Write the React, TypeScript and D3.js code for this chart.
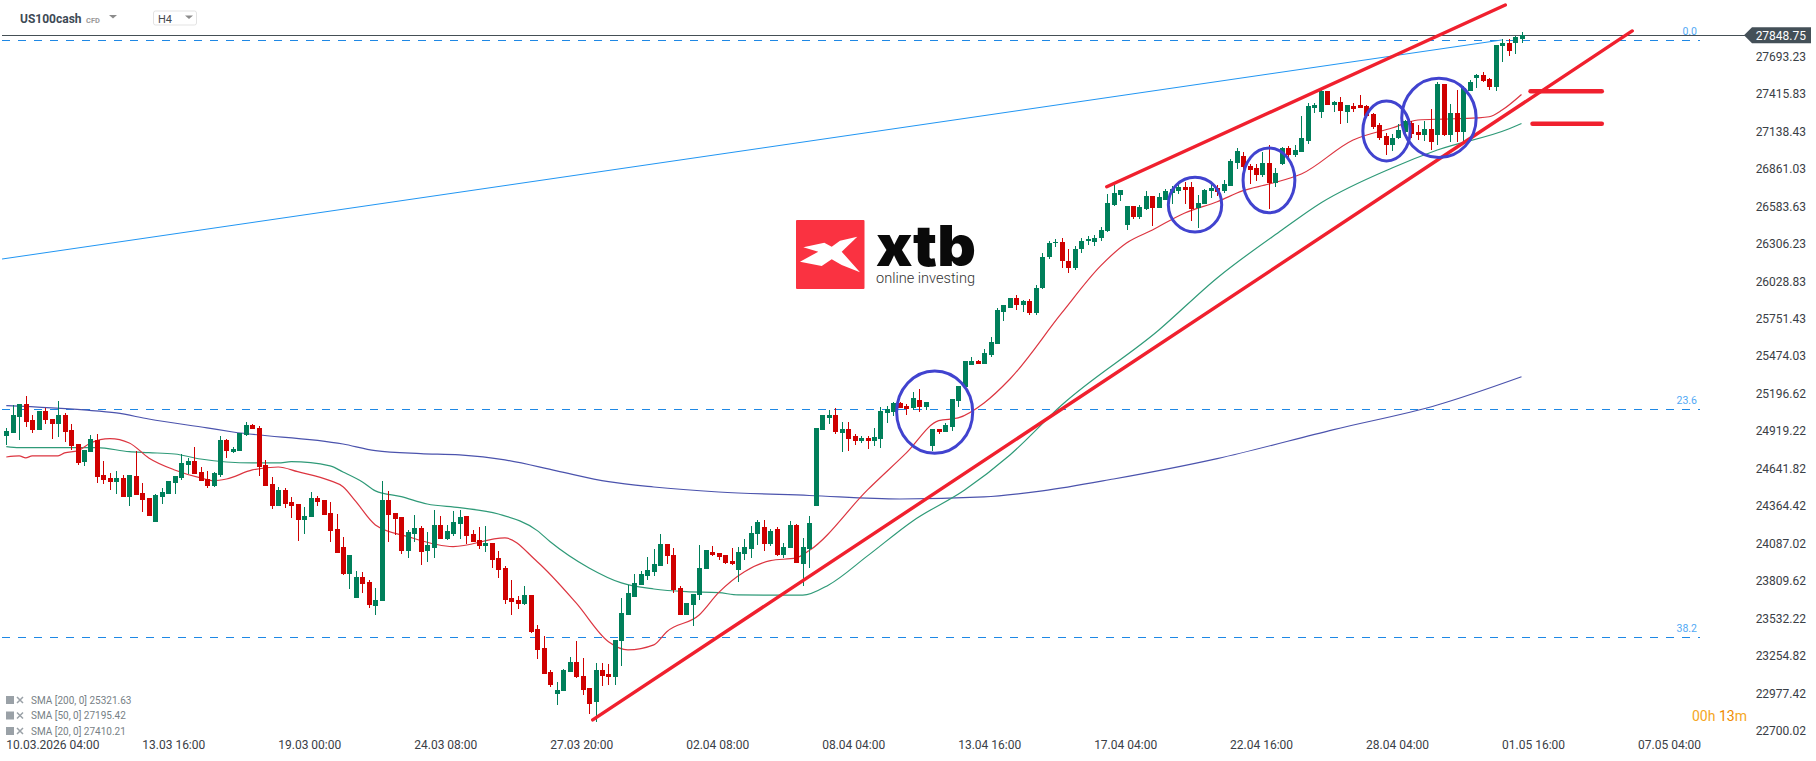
import * as d3 from 'd3';

type Candle = [number, number, number, number]; // open, high, low, close

const candlesMarchA: Candle[] = [
  [24884,24941,24817,24921],[24908,25113,24908,25039],[25027,25120,24854,25120],[25120,25180,24953,24990],
  [25002,25039,24908,24928],[24928,25068,24928,25068],[25068,25088,24972,25002],[25009,25009,24861,24972],
  [24972,25143,24876,25039],[25039,25051,24839,24913],[24928,24972,24780,24809],[24824,24824,24669,24684],
  [24691,24780,24661,24780],[24765,24891,24765,24861],[24854,24898,24536,24580],[24595,24698,24528,24558],
  [24573,24610,24484,24543],[24543,24624,24454,24573],[24573,24595,24432,24432],[24432,24595,24365,24595],
  [24587,24772,24447,24447],[24462,24536,24321,24410],[24425,24425,24291,24291],[24247,24454,24247,24447],
  [24432,24499,24380,24469],[24454,24550,24454,24550],[24536,24587,24454,24587],[24573,24750,24558,24684],
  [24669,24721,24602,24698],[24698,24802,24602,24602],[24617,24654,24550,24550],[24565,24624,24499,24513],
  [24513,24617,24506,24610],[24595,24883,24580,24854],[24854,24861,24721,24772],[24765,24802,24758,24787],
  [24772,24906,24772,24906],[24891,24987,24883,24965],[24965,24972,24935,24935],[24943,24957,24587,24654],
];
const candlesMarchB: Candle[] = [
  [24669,24706,24513,24513],[24528,24580,24343,24365],[24365,24506,24365,24484],[24484,24499,24351,24380],
  [24395,24432,24277,24365],[24380,24380,24106,24262],[24262,24358,24158,24291],[24284,24469,24284,24425],
  [24425,24439,24365,24395],[24410,24410,24299,24299],[24314,24395,24099,24180],[24195,24306,24017,24017],
  [24062,24136,23855,23862],[23862,24003,23751,24003],[23685,23884,23685,23840],[23840,23877,23722,23788],
  [23803,23818,23611,23633],[23625,23759,23559,23670],[23662,24551,23662,24410],[24410,24477,24099,24299],
  [24314,24314,24151,24269],[24284,24284,24010,24032],[24032,24188,23981,24173],[24158,24299,24099,24203],
  [24203,24217,23929,24025],[24032,24173,23951,24077],[24055,24336,23981,24225],[24225,24291,24121,24121],
  [24121,24225,24114,24180],[24158,24328,24143,24247],[24232,24336,24121,24284],[24291,24291,24084,24143],
  [24158,24188,24099,24099],[24114,24210,24047,24069],[24069,24217,24025,24092],[24092,24092,23907,23966],
  [23981,24032,23833,23892],[23907,23921,23640,23670],[23685,23818,23559,23655],[23670,23699,23603,23640],
];
const candlesLate: Candle[] = [
  [23640,23773,23633,23707],[23707,23707,23426,23433],[23455,23485,23233,23300],[23315,23403,23122,23122],
  [23137,23152,23026,23041],[22974,23063,22893,23004],[22996,23159,22996,23152],[23137,23248,23137,23211],
  [23211,23366,23093,23100],[23107,23241,22967,23004],[23019,23019,22826,22900],[22915,23204,22767,23152],
  [23152,23204,23033,23107],[23122,23196,23041,23100],[23100,23374,23041,23374],[23366,23685,23181,23574],
  [23559,23781,23559,23722],[23692,23862,23692,23796],[23781,23885,23781,23862],[23848,23988,23818,23892],
  [23877,24047,23848,23936],[23922,24158,23922,24084],[24084,24084,23936,23996],[24003,24055,23722,23744],
  [23759,23774,23559,23559],[23559,23648,23559,23648],[23633,23714,23477,23714],[23707,24077,23670,23907],
  [23899,24040,23899,24040],[24025,24070,23996,24003],[24018,24018,23966,23988],[24003,24003,23936,23944],
  [23959,24055,23926,23936],[23892,24062,23803,24025],[24010,24121,23966,24062],[24047,24218,23981,24166],
  [24158,24260,24077,24247],[24210,24262,24033,24084],[24084,24195,24070,24181],[24195,24210,23996,24003],
  [24003,24092,23981,24062],[24055,24255,24055,24225],[24225,24232,23944,23944],[23936,24129,23774,24062],
  [24047,24290,23907,24240],
];
const candlesAprilA: Candle[] = [
  [24365,24943,24365,24943],[24928,25039,24928,25039],[25017,25076,24972,25039],[25039,25090,24898,24913],
  [24905,24987,24765,24935],[24935,24987,24772,24861],[24883,24898,24817,24846],[24846,24883,24831,24868],
  [24868,24883,24787,24846],[24846,24943,24809,24876],[24861,25098,24795,25068],[25054,25105,24980,25083],
  [25061,25135,25031,25128],[25128,25135,25090,25090],[25105,25120,25039,25083],[25090,25209,25076,25165],
  [25150,25231,25061,25098],[25098,25135,25076,25135],[24809,24935,24772,24935],[24935,24935,24898,24913],
  [24913,24977,24913,24965],[24950,25157,24920,25157],[25142,25253,25098,25253],[25246,25438,25246,25438],
  [25409,25468,25409,25438],[25438,25445,25416,25416],[25416,25527,25416,25498],[25483,25616,25468,25579],
  [25564,25831,25564,25816],[25801,25853,25734,25853],[25831,25905,25831,25905],
];
const candlesAprilB: Candle[] = [
  [25905,25925,25815,25850],[25850,25890,25800,25880],[25880,25900,25780,25790],[25790,26000,25780,25980],
  [25980,26240,25970,26210],[26210,26330,26190,26310],[26310,26340,26280,26320],[26320,26345,26130,26180],
  [26180,26270,26090,26130],[26130,26290,26110,26270],[26270,26345,26240,26330],[26330,26360,26300,26340],
  [26320,26370,26290,26350],[26350,26430,26330,26405],[26400,26674,26390,26608],[26593,26741,26585,26682],
  [26667,26704,26622,26704],[26445,26585,26408,26585],[26585,26585,26489,26504],[26504,26593,26489,26578],
  [26563,26696,26556,26659],[26659,26659,26437,26571],[26571,26682,26571,26652],[26630,26711,26630,26696],
  [26682,26730,26600,26711],[26696,26740,26674,26726],[26726,26763,26600,26704],[26726,26763,26474,26563],
  [26571,26667,26423,26608],[26600,26711,26600,26704],[26696,26748,26645,26719],[26719,26741,26659,26689],
  [26696,26778,26682,26748],[26733,26933,26733,26918],[26904,27015,26859,26993],[26955,26985,26733,26874],
  [26881,26896,26748,26852],[26867,26896,26770,26815],[26815,26985,26800,26904],[26904,27037,26563,26756],
  [26756,26867,26726,26830],[26896,27022,26889,27015],[27015,27030,26926,26963],[26963,27037,26948,27000],
];
const candlesMay: Candle[] = [
  [26985,27252,26985,27089],[27066,27345,27044,27326],[27308,27345,27271,27333],[27281,27450,27237,27437],
  [27437,27437,27333,27333],[27333,27362,27281,27355],[27355,27392,27192,27289],[27281,27333,27200,27333],
  [27325,27348,27281,27303],[27333,27407,27311,27311],[27325,27335,27251,27251],[27266,27275,27155,27170],
  [27185,27200,27075,27089],[27103,27123,26960,27040],[27040,27118,26990,27090],[27089,27192,27080,27148],
  [27133,27225,27125,27214],[27200,27214,27090,27118],[27133,27185,27074,27111],[27111,27214,27070,27155],
  [27155,27303,27000,27060],[27111,27500,27040,27488],[27488,27488,27100,27111],[27111,27340,27060,27274],
  [27274,27444,27060,27133],[27133,27470,27060,27459],[27437,27515,27437,27503],[27533,27562,27459,27555],
  [27555,27577,27500,27511],[27525,27535,27444,27466],[27466,27777,27437,27777],[27772,27819,27651,27792],
  [27792,27819,27696,27733],[27792,27840,27710,27836],[27821,27873,27792,27849],
];
const candles = [...candlesMarchA, ...candlesMarchB, ...candlesLate, ...candlesAprilA, ...candlesAprilB, ...candlesMay];

// [candle index, price]
const sma20: [number, number][] = [
  [0,24728],[2,24736],[3,24721],[4,24736],[8,24736],[9,24758],[11,24773],[13,24832],[16,24864],[19,24832],
  [22,24721],[26,24632],[30,24573],[32,24553],[34,24565],[38,24632],[42,24654],[45,24619],[50,24553],[52,24508],
  [54,24397],[57,24225],[62,24139],[69,24065],[77,24129],[82,23953],[88,23648],[93,23361],[96,23300],[100,23337],
  [102,23435],[107,23559],[110,23724],[114,23879],[118,23961],[122,23981],[124,24035],[133,24484],[139,24758],
  [144,24997],[147,25017],[151,25128],[155,25305],[163,25794],[169,26142],[173,26312],[177,26408],[182,26534],
  [187,26617],[191,26699],[195,26748],[200,26822],[208,27074],[214,27163],[218,27222],[222,27229],[227,27237],
  [229,27246],[231,27296],[234,27411],
];
const sma50: [number, number][] = [
  [0,24804],[2,24797],[14,24797],[19,24767],[22,24760],[26,24750],[30,24713],[34,24691],[38,24684],[42,24684],
  [44,24693],[50,24662],[52,24617],[55,24543],[57,24477],[61,24434],[65,24380],[70,24353],[76,24306],[82,24183],
  [84,24101],[90,23907],[95,23796],[100,23751],[105,23731],[110,23724],[113,23707],[123,23705],
  [127,23781],[133,23996],[140,24255],[148,24484],[155,24743],[163,25113],[178,25668],[187,26053],[197,26408],
  [203,26608],[214,26867],[221,27000],[232,27155],[234,27196],
];
const sma200: [number, number][] = [
  [0,25108],[12,25076],[17,25054],[22,25009],[31,24943],[35,24913],[52,24824],[57,24775],[64,24753],[70,24743],
  [77,24706],[85,24625],[93,24545],[100,24506],[110,24469],[124,24443],[138,24417],[151,24432],[160,24477],
  [171,24565],[187,24716],[205,24931],[221,25113],[234,25322],
];

// drawings on the chart, [index, price, index, price]
const trendLines = [
  [90.56, 22782, 251.1, 27881],
  [169.95, 26728, 231.5, 28073],
];
const targetLines = [
  [235.4, 27434, 246.4, 27434],
  [235.7, 27195, 246.4, 27195],
];
const fibRay = [-0.66, 26193, 230.95, 27814];
const fibLevels = [
  { label: '0.0', price: 27814 },
  { label: '23.6', price: 25083 },
  { label: '38.2', price: 23394 },
];
// [index left, index right, price top, price bottom]
const circles = [
  [137.5, 149.25, 25365, 24756],
  [179.46, 187.7, 26798, 26393],
  [191, 199, 27015, 26536],
  [209.5, 216.8, 27363, 26919],
  [215.5, 227, 27531, 26944],
];

const lastPrice = 27848.75;
const priceTicks = [
  27693.23, 27415.83, 27138.43, 26861.03, 26583.63, 26306.23, 26028.83, 25751.43, 25474.03, 25196.62,
  24919.22, 24641.82, 24364.42, 24087.02, 23809.62, 23532.22, 23254.82, 22977.42, 22700.02,
];
const timeLabels = [
  '10.03.2026 04:00', '13.03 16:00', '19.03 00:00', '24.03 08:00', '27.03 20:00', '02.04 08:00', '08.04 04:00',
  '13.04 16:00', '17.04 04:00', '22.04 16:00', '28.04 04:00', '01.05 16:00', '07.05 04:00',
];
const timeStep = 21;
const legendRows = ['SMA [200, 0] 25321.63', 'SMA [50, 0] 27195.42', 'SMA [20, 0] 27410.21'];

const UP = '#007f5a';
const DOWN = '#cf0000';
const FIB = '#1e88e5';
const DRAW_RED = '#f0202e';
const FONT = 'Roboto, sans-serif';

export default function App() {
  const x = d3.scaleLinear().domain([0, 234]).range([6.3, 1521.5]);
  const y = d3.scaleLinear().domain([22700.02, lastPrice]).range([731, 35.3]);

  const smaLine = d3.line<[number, number]>()
    .x(d => x(d[0]))
    .y(d => y(d[1]))
    .curve(d3.curveMonotoneX);

  const lastY = y(lastPrice);

  return (
    <svg width={1816} height={761} style={{ position: 'absolute', left: 0, top: 0, background: '#fff' }} fontFamily={FONT}>
      {/* watermark */}
      <g>
        <rect x={796} y={220} width={68.5} height={69} rx={1} fill="#fa3241" />
        <polygon points="857.3,236.7 840,240.7 831.7,246.7 824.3,242.7 803.3,247.3 818.3,251.7 800,261.7 821.7,266 831.7,259.3 841.7,265 860,272.3 841.7,251.7" fill="#fff" />
        <text x={876} y={266} fontFamily="Inter, sans-serif" fontWeight={900} fontSize={56} textLength={100} lengthAdjust="spacingAndGlyphs" fill="#0a0a0a">xtb</text>
        <text x={876} y={282.5} fontFamily="Roboto, sans-serif" fontWeight={300} fontSize={15} textLength={99} lengthAdjust="spacingAndGlyphs" fill="#333">online investing</text>
      </g>

      {/* fibonacci levels */}
      {fibLevels.map(l => (
        <g key={l.label}>
          <line x1={2} x2={1700} y1={Math.round(y(l.price)) + 0.5} y2={Math.round(y(l.price)) + 0.5} stroke={FIB} strokeWidth={1} strokeDasharray="8 8" />
          <text x={1697} y={y(l.price) - 5} textAnchor="end" fontSize={10.5} fill="#52a9f5">{l.label}</text>
        </g>
      ))}
      <line x1={x(fibRay[0])} y1={y(fibRay[1])} x2={x(fibRay[2])} y2={y(fibRay[3])} stroke="#2196f3" strokeWidth={1} />
      <line x1={2} x2={1746} y1={Math.round(lastY) + 0.5} y2={Math.round(lastY) + 0.5} stroke="#454f55" strokeWidth={1} />

      {/* moving averages */}
      <path d={smaLine(sma200) ?? ''} fill="none" stroke="#4b53ad" strokeWidth={1.2} />
      <path d={smaLine(sma50) ?? ''} fill="none" stroke="#2f9a78" strokeWidth={1.2} />
      <path d={smaLine(sma20) ?? ''} fill="none" stroke="#dc3540" strokeWidth={1.2} />

      {/* candles */}
      {candles.map((c, i) => {
        const [open, high, low, close] = c;
        const color = close >= open ? UP : DOWN;
        const cx = Math.round(x(i));
        const top = y(Math.max(open, close));
        const bottom = y(Math.min(open, close));
        return (
          <g key={i} shapeRendering="crispEdges">
            <line x1={cx + 0.5} x2={cx + 0.5} y1={y(high)} y2={y(low)} stroke={color} strokeWidth={1} />
            <rect x={cx - 2} y={top} width={5} height={Math.max(bottom - top, 1)} fill={color} />
          </g>
        );
      })}

      {/* hand drawn annotations */}
      {trendLines.map((l, i) => (
        <line key={i} x1={x(l[0])} y1={y(l[1])} x2={x(l[2])} y2={y(l[3])} stroke={DRAW_RED} strokeWidth={3.4} strokeLinecap="round" />
      ))}
      {targetLines.map((l, i) => (
        <line key={i} x1={x(l[0])} y1={y(l[1])} x2={x(l[2])} y2={y(l[3])} stroke={DRAW_RED} strokeWidth={4.5} strokeLinecap="round" />
      ))}
      {circles.map((c, i) => (
        <ellipse key={i} cx={(x(c[0]) + x(c[1])) / 2} cy={(y(c[2]) + y(c[3])) / 2}
          rx={(x(c[1]) - x(c[0])) / 2} ry={(y(c[3]) - y(c[2])) / 2}
          fill="none" stroke="#4143cf" strokeWidth={3} />
      ))}

      {/* price axis */}
      {priceTicks.map(t => (
        <text key={t} x={1806} y={y(t)} dy="0.36em" textAnchor="end" fontSize={12} fill="#3a4046">{t.toFixed(2)}</text>
      ))}
      <polygon points={`1744,${lastY} 1752,${lastY - 8} 1811,${lastY - 8} 1811,${lastY + 8} 1752,${lastY + 8}`} fill="#445058" />
      <text x={1806} y={lastY} dy="0.36em" textAnchor="end" fontSize={12} fill="#fff">{lastPrice.toFixed(2)}</text>

      {/* time axis */}
      {timeLabels.map((t, i) => (
        <text key={t} x={x(i * timeStep)} y={749} fontSize={12} fill="#3a4046">{t}</text>
      ))}

      {/* header */}
      <text x={20} y={23} fontSize={12} fontWeight={700} fill="#3d4a55">US100cash</text>
      <text x={86} y={22.5} fontSize={7.5} fontWeight={700} fill="#9a9a9a">CFD</text>
      <polygon points="109,15 117,15 113,18.5" fill="#8c8c8c" />
      <rect x={153.5} y={11} width={43} height={14} rx={2} fill="#fff" stroke="#e3e3e3" />
      <text x={158} y={23} fontSize={11} fill="#44494e">H4</text>
      <polygon points="185,15.5 193,15.5 189,19" fill="#8c8c8c" />

      {/* legend */}
      {legendRows.map((r, i) => {
        const rowY = 700 + i * 15.5;
        return (
          <g key={r}>
            <rect x={6} y={rowY - 4} width={8} height={8} fill="#9aa1a7" />
            <path d={`M17 ${rowY - 3}L23 ${rowY + 3}M23 ${rowY - 3}L17 ${rowY + 3}`} stroke="#9aa1a7" strokeWidth={1.5} />
            <text x={31} y={rowY} dy="0.35em" fontSize={10} fill="#777f86">{r}</text>
          </g>
        );
      })}

      {/* candle countdown */}
      <text x={1692} y={721} fontSize={14} fill="#f5a623">00h <tspan fill="#f08a00">13</tspan>m</text>
    </svg>
  );
}
